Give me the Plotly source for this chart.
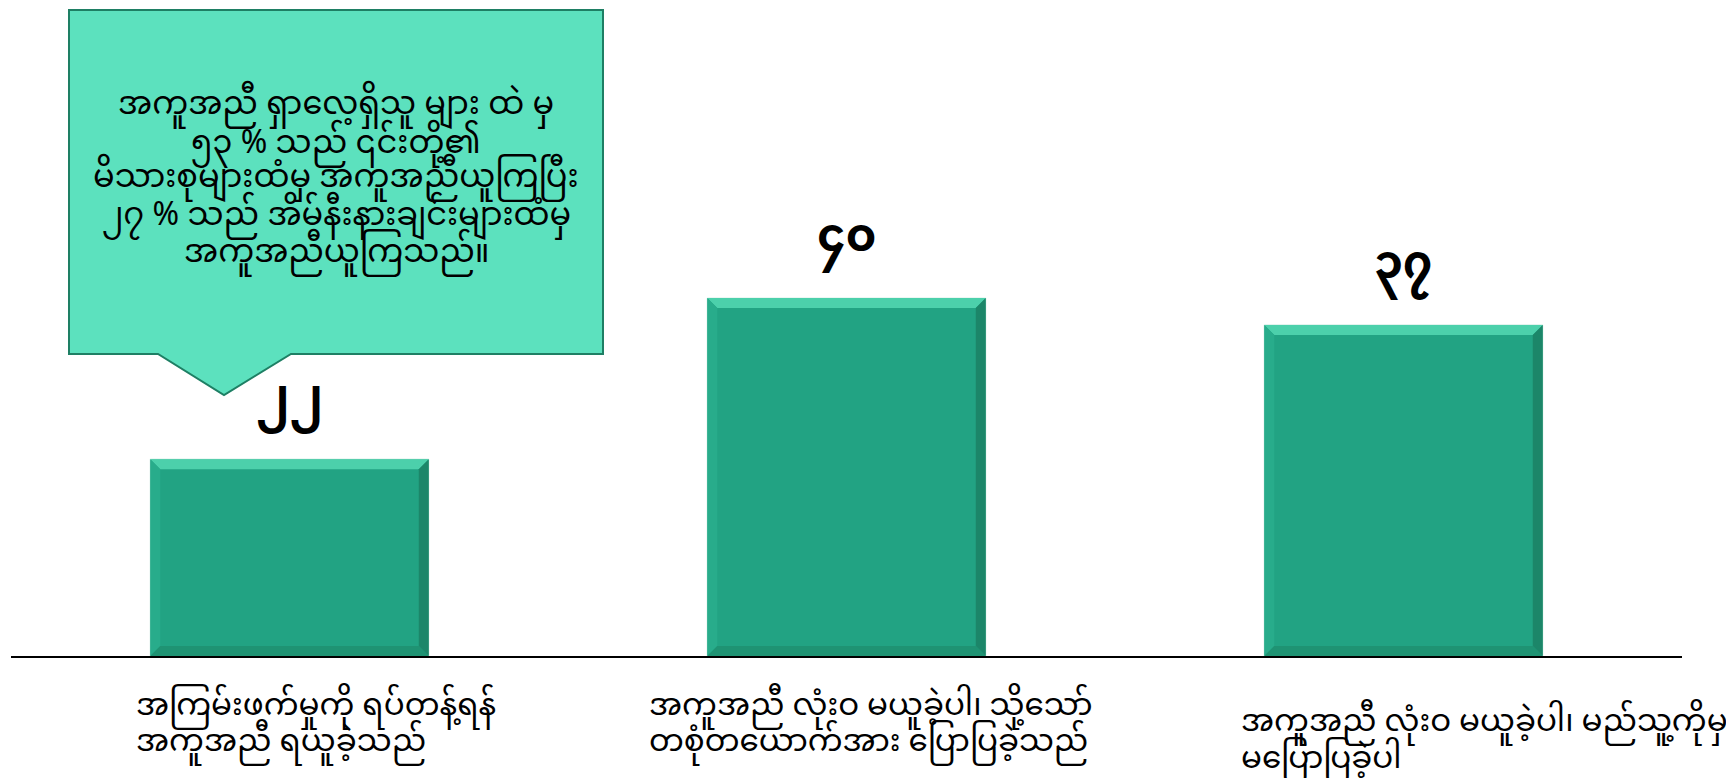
import plotly.graph_objects as go

# ---- data ----
categories = [
    "အကြမ်းဖက်မှုကို ရပ်တန့်ရန်\nအကူအညီ ရယူခဲ့သည်",
    "အကူအညီ လုံးဝ မယူခဲ့ပါ၊ သို့သော်\nတစုံတယောက်အား ပြောပြခဲ့သည်",
    "အကူအညီ လုံးဝ မယူခဲ့ပါ၊ မည်သူ့ကိုမှ\nမပြောပြခဲ့ပါ",
]
values = [22, 40, 37]
value_labels = ["၂၂", "၄၀", "၃၇"]
callout_lines = [
    "အကူအညီ ရှာလေ့ရှိသူ များ ထဲ မှ",
    "၅၃ % သည် ၎င်းတို့၏",
    "မိသားစုများထံမှ အကူအညီယူကြပြီး",
    "၂၇ % သည် အိမ်နီးနားချင်းများထံမှ",
    "အကူအညီယူကြသည်။",
]

# ---- layout constants (page body has an 8px margin) ----
OFF = 8
W, H = 1734 - OFF, 778 - OFF
ML, MR, MT, MB = 11 - OFF, 52, 10 - OFF, 122
PW, PH = W - ML - MR, H - MT - MB
YMAX = 72.2
FONT = "Noto Sans Myanmar, Padauk, Myanmar Text, Myanmar3, sans-serif"

BAR = "#22A383"
xs = list(range(len(values)))

fig = go.Figure(go.Bar(
    x=xs, y=values, width=0.5,
    marker=dict(color=BAR, line=dict(color="#A8DCCD", width=0.6)),
    hoverinfo="skip",
))

# bevel effect computed from the data
dx = 10 / (PW / 3)
dy = 10 / (PH / YMAX)
shapes = []
for x, v in zip(xs, values):
    x0, x1 = x - 0.25, x + 0.25
    y0, y1 = 0, v
    def poly(pts, col):
        d = "M " + " L ".join(f"{a},{b}" for a, b in pts) + " Z"
        return dict(type="path", path=d, xref="x", yref="y",
                    fillcolor=col, line=dict(width=0), layer="above")
    shapes.append(poly([(x0, y1), (x1, y1), (x1 - dx, y1 - dy), (x0 + dx, y1 - dy)], "#4CD0AB"))
    shapes.append(poly([(x0, y1), (x0 + dx, y1 - dy), (x0 + dx, y0 + dy), (x0, y0)], "#28AC8B"))
    shapes.append(poly([(x1, y1), (x1 - dx, y1 - dy), (x1 - dx, y0 + dy), (x1, y0)], "#1C8669"))
    shapes.append(poly([(x0, y0), (x0 + dx, y0 + dy), (x1 - dx, y0 + dy), (x1, y0)], "#1F9373"))

# callout box (screen pixel coords -> paper)
def px(x):
    return (x - OFF - ML) / PW
def py(y):
    return (H - MB - (y - OFF)) / PH

pts = [(69, 10), (603, 10), (603, 354), (291, 354), (224, 395), (158, 354), (69, 354)]
d = "M " + " L ".join(f"{px(a):.5f},{py(b):.5f}" for a, b in pts) + " Z"
shapes.append(dict(type="path", path=d, xref="paper", yref="paper",
                   fillcolor="#5CE1BE", line=dict(color="#1E7F64", width=2), layer="above"))

annotations = []
for x, v, lab in zip(xs, values, value_labels):
    annotations.append(dict(x=x, y=v, xref="x", yref="y", text=f"<b>{lab}</b>", showarrow=False,
                            yanchor="bottom", yshift=5,
                            font=dict(family=FONT, size=46, color="black")))

label_shift = [-16, -60, -25]
label_top = [708, 708, 724]   # screen y of first line centre
label_gap = [36, 36, 37]
for x, cat, sx, ty, gap in zip(xs, categories, label_shift, label_top, label_gap):
    for k, line in enumerate(cat.split("\n")):
        annotations.append(dict(x=x - 0.25, y=py(ty + k * gap), xref="x", yref="paper",
                                text=line, showarrow=False,
                                xanchor="left", yanchor="middle", align="left",
                                xshift=sx,
                                font=dict(family=FONT, size=31, color="black")))

callout_y = [107, 146, 180, 218, 255]
for line, cy in zip(callout_lines, callout_y):
    annotations.append(dict(x=px(336), y=py(cy), xref="paper", yref="paper", text=line,
                            showarrow=False, xanchor="center", yanchor="middle", align="center",
                            font=dict(family=FONT, size=32, color="black")))

fig.update_layout(
    width=W, height=H,
    margin=dict(l=ML, r=MR, t=MT, b=MB),
    paper_bgcolor="white", plot_bgcolor="white",
    showlegend=False,
    bargap=0.5,
    xaxis=dict(range=[-0.5, 2.5], showticklabels=False, showgrid=False, zeroline=False,
               showline=True, linecolor="black", linewidth=2, ticks=""),
    yaxis=dict(range=[0, YMAX], visible=False),
    shapes=shapes,
    annotations=annotations,
)

fig.write_html("out.html")
